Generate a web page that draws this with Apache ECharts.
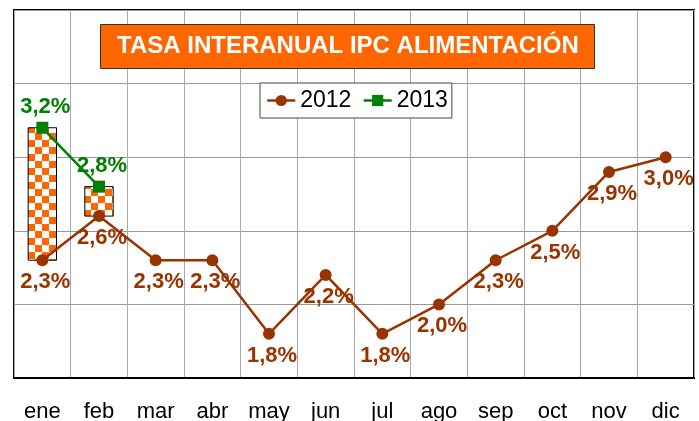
<!DOCTYPE html>
<html>
<head>
<meta charset="utf-8">
<script src="https://cdn.jsdelivr.net/npm/echarts@6/dist/echarts.min.js"></script>
<style>
  html, body { margin: 0; padding: 0; background: #fff; }
  #chart { width: 699px; height: 421px; }
</style>
</head>
<body>
<div id="chart"></div>
<script>
var months = ['ene', 'feb', 'mar', 'abr', 'may', 'jun', 'jul', 'ago', 'sep', 'oct', 'nov', 'dic']
var values2012 = [2.3, 2.6, 2.3, 2.3, 1.8, 2.2, 1.8, 2.0, 2.3, 2.5, 2.9, 3.0]
var values2013 = [3.2, 2.8]

var font = '"Liberation Sans", Arial, sans-serif'

// checker pattern for the up/down bars
var cell = 7
var tile = document.createElement('canvas')
tile.width = cell * 2
tile.height = cell * 2
var tctx = tile.getContext('2d')
tctx.fillStyle = '#ffffff'
tctx.fillRect(0, 0, cell * 2, cell * 2)
tctx.fillStyle = '#ff6600'
tctx.fillRect(0, 0, cell, cell)
tctx.fillRect(cell, cell, cell, cell)

var spans = values2013.map(function (v, i) {
  return [i, Math.min(v, values2012[i]), Math.max(v, values2012[i])]
})

function pct (p) {
  return p.value.toFixed(1).replace('.', ',') + '%'
}

var chart = echarts.init(document.getElementById('chart'))
chart.setOption({
  animation: false,
  title: {
    text: 'TASA INTERANUAL IPC ALIMENTACIÓN',
    left: 100,
    top: 24,
    padding: [10, 16, 11, 17],
    backgroundColor: '#ff6600',
    borderColor: '#333',
    borderWidth: 1,
    textStyle: { color: '#fff', fontSize: 24, fontWeight: 'bold', fontFamily: font, lineHeight: 24 }
  },
  legend: {
    left: 260,
    top: 83,
    padding: [6, 4, 6, 6],
    itemGap: 11,
    itemWidth: 28,
    itemHeight: 14,
    backgroundColor: '#fff',
    borderColor: '#444',
    borderWidth: 1,
    data: ['2012', '2013'],
    lineStyle: { width: 2.5 },
    textStyle: { color: '#000', fontSize: 23, fontFamily: font }
  },
  grid: {
    left: 14,
    top: 10,
    right: 5,
    bottom: 43,
    outerBoundsMode: 'none',
    containLabel: false,
    show: true,
    borderColor: '#000',
    borderWidth: 2
  },
  xAxis: {
    type: 'category',
    data: months,
    axisTick: { show: false },
    axisLine: { lineStyle: { color: '#000', width: 2 } },
    axisLabel: { color: '#000', fontSize: 22, fontFamily: font, margin: 23 },
    splitLine: { show: true, lineStyle: { color: '#aaa', width: 1 } }
  },
  yAxis: {
    type: 'value',
    min: 1.5,
    max: 4,
    interval: 0.5,
    axisLabel: { show: false },
    axisLine: { show: false },
    axisTick: { show: false },
    splitLine: { lineStyle: { color: '#999', width: 1 } }
  },
  series: [
    {
      type: 'custom',
      z: 1,
      silent: true,
      data: spans,
      renderItem: function (params, api) {
        var lo = api.coord([api.value(0), api.value(1)])
        var hi = api.coord([api.value(0), api.value(2)])
        var w = api.size([1, 0])[0] * 0.5
        return {
          type: 'rect',
          shape: { x: lo[0] - w / 2, y: hi[1], width: w, height: lo[1] - hi[1] },
          style: { fill: { image: tile, repeat: 'repeat' }, stroke: '#000', lineWidth: 1 }
        }
      }
    },
    {
      name: '2012',
      type: 'line',
      z: 3,
      data: values2012,
      color: '#993300',
      symbol: 'circle',
      symbolSize: 12,
      lineStyle: { width: 2.5, color: '#993300' },
      itemStyle: { color: '#993300' },
      label: {
        show: true,
        position: 'bottom',
        distance: 5,
        offset: [3, 0],
        color: '#993300',
        fontSize: 22,
        fontWeight: 'bold',
        fontFamily: font,
        formatter: pct
      }
    },
    {
      name: '2013',
      type: 'line',
      z: 4,
      data: values2013,
      color: '#008000',
      symbol: 'rect',
      symbolSize: 12,
      lineStyle: { width: 2.5, color: '#008000' },
      itemStyle: { color: '#008000' },
      label: {
        show: true,
        position: 'top',
        distance: 4,
        offset: [3, 0],
        color: '#008000',
        fontSize: 22,
        fontWeight: 'bold',
        fontFamily: font,
        formatter: pct
      }
    }
  ]
})
</script>
</body>
</html>
